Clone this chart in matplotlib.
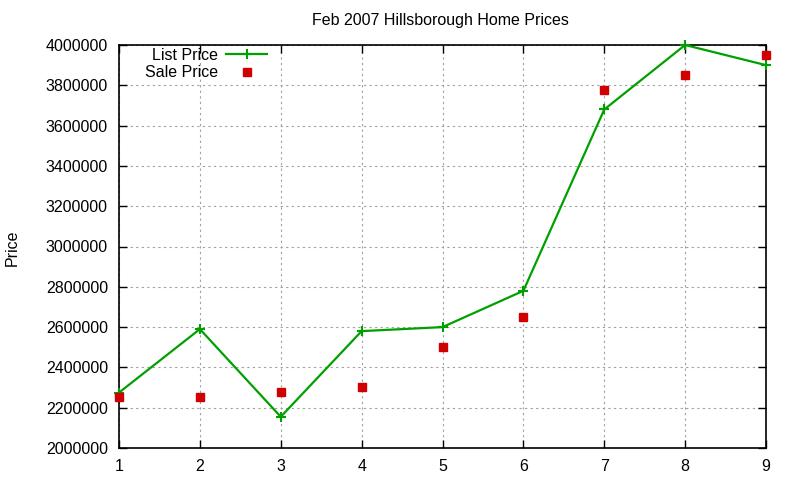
import matplotlib
matplotlib.use('Agg')
import matplotlib.pyplot as plt

# datos
meses = [1, 2, 3, 4, 5, 6, 7, 8, 9]
list_price = [2275000, 2590000, 2155000, 2580000, 2600000, 2780000, 3680000, 4000000, 3900000]
sale_price = [2255000, 2255000, 2278000, 2302000, 2500000, 2650000, 3775000, 3850000, 3950000]
y_ticks = list(range(2000000, 4000001, 200000))

plt.rcParams['font.family'] = ['Liberation Sans', 'DejaVu Sans']
plt.rcParams['font.size'] = 11.5

fig = plt.figure(figsize=(8, 4.8), dpi=100)
ax = fig.add_axes([119/800, 1-448/480, (766-119)/800, (448-45)/480])

ax.plot(meses, list_price, color='#00a000', linewidth=1.6, marker='+',
        markersize=7, markeredgewidth=1.5, label='List Price', zorder=3, clip_on=False)
ax.plot(meses, sale_price, color='#d00000', linestyle='none', marker='s',
        markersize=6, label='Sale Price', zorder=4, clip_on=False)

ax.set_xlim(1, 9)
ax.set_ylim(2000000, 4000000)
ax.set_xticks(meses)
ax.set_yticks(y_ticks)
ax.set_yticklabels([str(v) for v in y_ticks])

# cuadricula punteada estilo gnuplot
ax.grid(True, color='#a0a0a0', linestyle=(0, (2, 3)), linewidth=0.8)
ax.set_axisbelow(True)
ax.tick_params(direction='in', top=True, right=True, length=6, width=1, pad=8)
for s in ax.spines.values():
    s.set_linewidth(1.2)

fig.text(440/800, 1-20/480, 'Feb 2007 Hillsborough Home Prices', ha='center', va='center')
fig.text(12/800, 1-248/480, 'Price', rotation=90, ha='center', va='center')

ax.legend(loc='upper left', bbox_to_anchor=(0.02, 1.025), frameon=False,
          markerfirst=False, handlelength=2.6, borderpad=0.3, labelspacing=0.15,
          handletextpad=0.5)

fig.savefig('out.png', dpi=100)
